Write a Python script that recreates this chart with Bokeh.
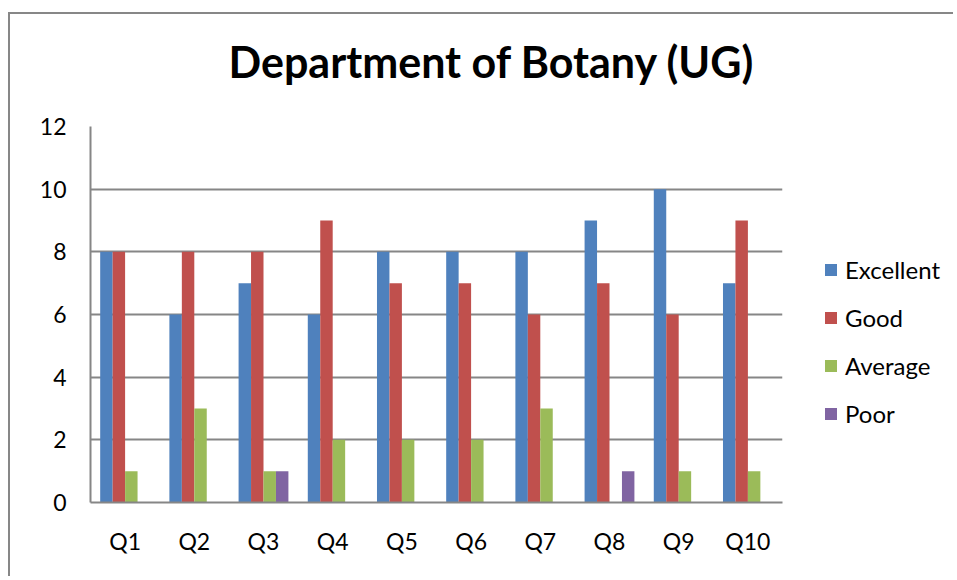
from bokeh.plotting import figure
from bokeh.layouts import row
from bokeh.models import (FactorRange, Legend, LegendItem, ColumnDataSource,
                          FixedTicker, Range1d, Title)
from bokeh.transform import dodge
from bokeh.embed import file_html
from bokeh.resources import INLINE

categories = ["Q1", "Q2", "Q3", "Q4", "Q5", "Q6", "Q7", "Q8", "Q9", "Q10"]
excellent = [8, 6, 7, 6, 8, 8, 8, 9, 10, 7]
good = [8, 8, 8, 9, 7, 7, 6, 7, 6, 9]
average = [1, 3, 1, 2, 2, 2, 3, 0, 1, 1]
poor = [0, 0, 1, 0, 0, 0, 0, 1, 0, 0]
series_names = ["Excellent", "Good", "Average", "Poor"]
colors = ["#4F81BD", "#C0504D", "#9BBB59", "#8064A2"]
y_ticks = [0, 2, 4, 6, 8, 10, 12]

source = ColumnDataSource(dict(cat=categories, Excellent=excellent, Good=good,
                               Average=average, Poor=poor))

FONT = "Lato"
GRID = "#868686"
BORDER = "2px solid #878787"

# ---- main chart ----
p = figure(x_range=FactorRange(factors=categories, range_padding=0),
           y_range=(0, 12), width=782, height=564,
           output_backend="svg", toolbar_location=None,
           min_border_left=80, min_border_right=10,
           min_border_top=112, min_border_bottom=76)
p.margin = (12, 0, 0, 8)
p.styles = {"border-left": BORDER, "border-top": BORDER}

# blank spacer between the plot area and the title
p.add_layout(Title(text=" ", text_font_size="1px", standoff=37), "above")

p.title.text = "Department of Botany (UG)"
p.title.text_font = FONT
p.title.text_font_size = "43px"
p.title.text_font_style = "bold"
p.title.text_color = "black"
p.title.align = "left"
p.title.offset = 138
p.title.vertical_align = "bottom"
p.title.standoff = 0

offsets = [-0.27, -0.09, 0.09, 0.27]
for name, col, off in zip(series_names, colors, offsets):
    p.vbar(x=dodge("cat", off, range=p.x_range), top=name, width=0.18,
           source=source, fill_color=col, line_color=None)

p.outline_line_color = None
p.xgrid.grid_line_color = None
p.ygrid.grid_line_color = GRID
p.ygrid.grid_line_width = 2
p.yaxis.ticker = FixedTicker(ticks=y_ticks)

for ax in (p.xaxis[0], p.yaxis[0]):
    ax.axis_line_color = GRID
    ax.axis_line_width = 2
    ax.major_tick_line_color = None
    ax.minor_tick_line_color = None
    ax.major_label_text_font = FONT
    ax.major_label_text_font_size = "23px"
    ax.major_label_text_color = "black"
p.xaxis.major_label_standoff = 18
p.yaxis.major_label_standoff = 18

# ---- legend panel: its bars use factors outside its range, so only the
# legend swatches are drawn ----
q = figure(width=163, height=564,
           x_range=FactorRange(factors=["legend"]), y_range=Range1d(0, 12),
           x_axis_type=None, y_axis_type=None,
           output_backend="svg", toolbar_location=None,
           min_border_left=0, min_border_right=0,
           min_border_top=0, min_border_bottom=0)
q.margin = (12, 0, 0, 0)
q.styles = {"border-top": BORDER}
q.outline_line_color = None
q.grid.visible = False

items = []
for name, col in zip(series_names, colors):
    r = q.vbar(x="cat", top=name, width=0.5, source=source,
               fill_color=col, line_color=None)
    items.append(LegendItem(label=name, renderers=[r]))

legend = Legend(items=items, location=(33, 74), orientation="vertical",
                label_text_font=FONT, label_text_font_size="24px",
                label_text_color="black",
                glyph_width=15, glyph_height=15, label_height=26,
                label_standoff=7, spacing=19, padding=0, margin=0,
                border_line_color=None, background_fill_alpha=0)
q.add_layout(legend, "center")

layout = row(p, q, spacing=0)
open("out.html", "w").write(file_html(layout, INLINE))
